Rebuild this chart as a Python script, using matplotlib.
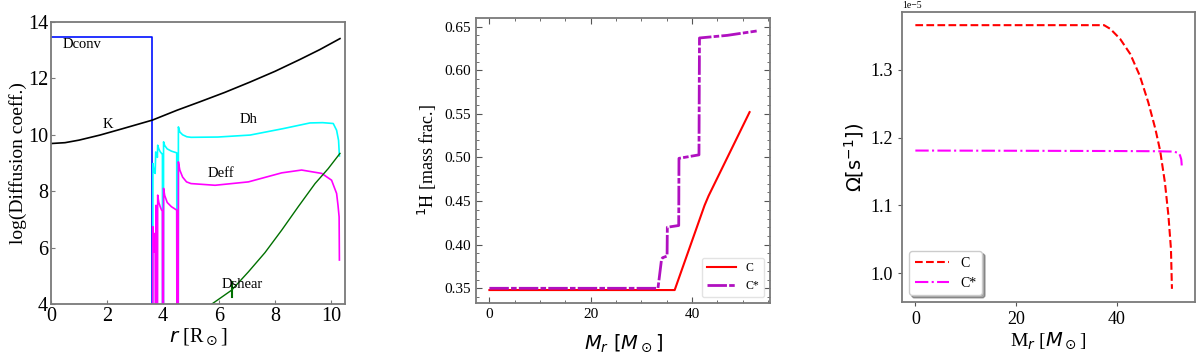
import matplotlib
matplotlib.use('Agg')
import matplotlib.pyplot as plt
from matplotlib.ticker import MultipleLocator, AutoMinorLocator

plt.rcParams['font.family'] = ['Liberation Serif', 'DejaVu Sans']
plt.rcParams['mathtext.fontset'] = 'dejavusans'

# ---- panel 1: diffusion coefficients vs radius
dconv_r = [0, 3.62, 3.62]
dconv = [13.47, 13.47, 0]

k_r = [0, 0.5, 1.0, 1.75, 2.5, 3.62, 4.5, 5.32, 6.2, 7.11, 8.0, 8.89, 9.6, 10.32]
k = [9.69, 9.72, 9.81, 9.99, 10.2, 10.52, 10.87, 11.17, 11.5, 11.87, 12.25, 12.67, 13.02, 13.41]

dh_r = [3.63, 3.64, 3.68, 3.72, 3.74, 3.78, 3.80, 3.81, 3.85, 3.90, 3.95, 3.98, 3.985,
        4.015, 4.02, 4.06, 4.15, 4.30, 4.49, 4.50, 4.54, 4.55, 4.60, 4.70, 4.85, 5.0,
        5.96, 7.11, 8.30, 9.25, 9.7, 10.08, 10.2, 10.27, 10.30]
dh = [0, 8.98, 8.70, 8.63, 9.39, 9.30, 9.20, 9.63, 9.50, 9.40, 9.34, 9.30, 0,
      0, 9.75, 9.62, 9.50, 9.42, 9.36, 0, 0, 10.28, 10.10, 10.0, 9.93, 9.91,
      9.92, 9.99, 10.22, 10.42, 10.43, 10.40, 10.16, 9.80, 9.25]

deff_r = [3.63, 3.64, 3.66, 3.68, 3.70, 3.72, 3.73, 3.745, 3.75, 3.77, 3.78, 3.80,
          3.81, 3.85, 3.90, 3.95, 3.98, 3.985, 4.015, 4.02, 4.06, 4.15, 4.30, 4.49,
          4.50, 4.54, 4.55, 4.60, 4.70, 4.84, 5.0, 5.86, 7.05, 8.24, 8.95, 9.67,
          10.02, 10.2, 10.25, 10.29, 10.30]
deff = [0, 6.74, 6.30, 5.85, 6.50, 6.00, 0, 0, 7.50, 7.20, 0, 0,
        7.86, 7.60, 7.45, 7.33, 7.30, 0, 0, 8.10, 7.85, 7.60, 7.45, 7.33,
        0, 0, 9.04, 8.75, 8.50, 8.33, 8.27, 8.21, 8.33, 8.65, 8.75, 8.63,
        8.39, 7.92, 7.50, 7.09, 5.56]

dshear_r = [5.6, 5.86, 6.45, 7.05, 7.64, 8.24, 8.83, 9.43, 9.90, 10.32]
dshear = [3.9, 4.08, 4.49, 5.14, 5.82, 6.62, 7.45, 8.27, 8.80, 9.34]
tick_r = [6.45, 6.45]
tick_d = [4.24, 4.77]

# ---- panel 2: hydrogen mass fraction
h_m_c = [0, 36.6, 42.5, 43.3, 51.4]
h_c = [0.348, 0.348, 0.445, 0.456, 0.552]
h_m_cs = [0, 33.3, 34.0, 34.2, 35.1, 35.15, 37.4, 37.45, 41.4, 41.5, 47.0, 52.8]
h_cs = [0.350, 0.350, 0.383, 0.385, 0.387, 0.420, 0.422, 0.499, 0.503, 0.637, 0.640, 0.645]

# ---- panel 3: angular velocity
om_m_c = [0, 37.5, 38.75, 40.7, 42.7, 44.6, 46.3, 47.7, 48.65, 49.6, 50.3, 50.8, 51.0]
om_c = [1.366e-5, 1.366e-5, 1.3605e-5, 1.3457e-5, 1.3236e-5, 1.2916e-5, 1.252e-5,
        1.213e-5, 1.181e-5, 1.134e-5, 1.085e-5, 1.036e-5, 0.977e-5]
om_m_cs = [0, 20, 40, 48, 51.3, 52.3, 52.6, 52.85, 52.95]
om_cs = [1.181e-5, 1.1807e-5, 1.1803e-5, 1.180e-5, 1.1795e-5, 1.1775e-5, 1.174e-5,
         1.168e-5, 1.159e-5]

fig = plt.figure(figsize=(12, 3.63), dpi=100)
spine_col = '#7a7a7a'

# panel 1
ax1 = fig.add_axes([0.0425, 0.1625, 0.245, 0.777])
ax1.plot(dconv_r, dconv, color='#0010ff', lw=1.2)
ax1.plot(k_r, k, color='black', lw=1.2)
ax1.plot(dh_r, dh, color='#00ffff', lw=1.2)
ax1.plot(deff_r, deff, color='#ff00ff', lw=1.2)
ax1.plot(dshear_r, dshear, color='#007000', lw=1.0)
ax1.plot(tick_r, tick_d, color='#007000', lw=1.5)
ax1.text(0.4, 13.07, 'Dconv', fontsize=10.5)
ax1.text(1.86, 10.25, 'K', fontsize=10.5)
ax1.text(6.75, 10.4, 'Dh', fontsize=10.5)
ax1.text(5.6, 8.5, 'Deff', fontsize=10.5)
ax1.text(6.1, 4.55, 'Dshear', fontsize=10.5)
ax1.set_xlim(0, 10.5)
ax1.set_ylim(4, 14)
ax1.xaxis.set_major_locator(MultipleLocator(2))
ax1.yaxis.set_major_locator(MultipleLocator(2))
ax1.tick_params(direction='in', labelsize=14.5, length=3, color=spine_col, pad=2)
ax1.set_xlabel(r'$r$ [R$_\odot$]', fontsize=14.5, labelpad=0)
ax1.set_ylabel('log(Diffusion coeff.)', fontsize=14, labelpad=1)
for s in ax1.spines.values():
    s.set_color(spine_col)
    s.set_linewidth(1.3)

# panel 2
ax2 = fig.add_axes([0.3967, 0.1653, 0.245, 0.785])
ax2.plot(h_m_c, h_c, color='red', lw=1.5, label='C')
ax2.plot(h_m_cs, h_cs, color='#b010c0', lw=2.0, dashes=(7, 0.8, 2, 0.8), label='C*')
ax2.xaxis.set_major_locator(MultipleLocator(20))
ax2.xaxis.set_minor_locator(MultipleLocator(5))
ax2.yaxis.set_major_locator(MultipleLocator(0.05))
ax2.yaxis.set_minor_locator(AutoMinorLocator(5))
ax2.tick_params(which='both', direction='in', top=True, right=True, color='#555555')
ax2.tick_params(which='major', length=4, labelsize=11)
ax2.tick_params(which='minor', length=2)
ax2.set_xlabel(r'$M_r\ [M_\odot]$', fontsize=14, labelpad=8)
ax2.set_ylabel(r'$^{1}$H [mass frac.]', fontsize=13, labelpad=4)
ax2.legend(loc='lower right', fontsize=8.5, edgecolor='#dddddd', handlelength=2.5)
for s in ax2.spines.values():
    s.set_color(spine_col)
    s.set_linewidth(1.3)

# panel 3
ax3 = fig.add_axes([0.7517, 0.168, 0.2442, 0.799])
ax3.plot(om_m_c, om_c, color='red', lw=1.5, ls='--', label='C')
ax3.plot(om_m_cs, om_cs, color='magenta', lw=1.5, ls='-.', label='C*')
ax3.xaxis.set_major_locator(MultipleLocator(20))
ax3.yaxis.set_major_locator(MultipleLocator(0.1e-5))
ax3.tick_params(labelsize=13, length=3, color='#555555')
ax3.yaxis.get_offset_text().set_fontsize(7)
ax3.set_xlabel(r'M$_r$ [$M_\odot$]', fontsize=14, labelpad=2)
ax3.set_ylabel(r'$\Omega[\mathrm{s}^{-1}])$', fontsize=14, labelpad=3)
ax3.legend(loc='lower left', fontsize=10, shadow=True, handlelength=2.5)
for s in ax3.spines.values():
    s.set_color(spine_col)
    s.set_linewidth(1.3)

fig.savefig('out.png', dpi=100)
